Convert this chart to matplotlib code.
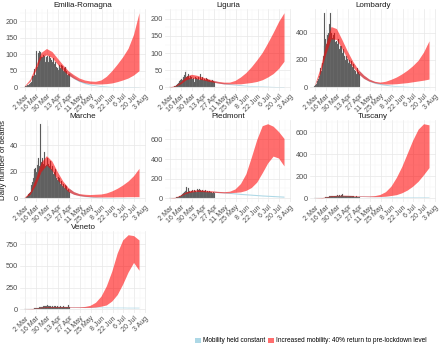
import numpy as np
import pandas as pd
import matplotlib
matplotlib.use("Agg")
import matplotlib.pyplot as plt
import matplotlib.dates as mdates
from matplotlib.patches import Patch

plt.rcParams['font.family'] = ['Liberation Sans', 'DejaVu Sans']

regions = ["Emilia-Romagna", "Liguria", "Lombardy", "Marche", "Piedmont", "Tuscany", "Veneto"]

bar_dates = pd.date_range("2020-03-01", "2020-04-28", freq="D")
ribbon_dates = pd.date_range("2020-03-01", periods=22, freq="7D")
blue_dates = ribbon_dates[8:]

deaths = {
    "Emilia-Romagna": [1, 4, 4, 5, 6, 7, 11, 12, 12, 16, 33, 34, 30, 55, 38, 108, 60, 68, 103, 109, 106,
                       93, 91, 90, 96, 93, 104, 76, 92, 95, 89, 76, 94, 88, 82, 62, 75, 88, 70, 62, 77, 62,
                       58, 51, 69, 67, 58, 68, 62, 63, 50, 59, 60, 61, 49, 36, 39, 46, 40],
    "Liguria": [0, 0, 0, 1, 1, 2, 3, 4, 6, 8, 10, 13, 15, 18, 20, 24, 22, 28, 30, 35, 45,
                50, 30, 34, 40, 28, 36, 32, 30, 25, 34, 28, 16, 30, 26, 28, 24, 30, 22, 26, 38, 25,
                30, 22, 27, 24, 20, 26, 22, 25, 20, 22, 18, 24, 19, 21, 18, 20, 16],
    "Lombardy": [10, 20, 25, 30, 45, 60, 80, 110, 140, 120, 180, 230, 300, 546, 350, 320, 420, 380, 400, 460, 546,
                 380, 400, 360, 380, 350, 400, 330, 340, 320, 300, 350, 280, 300, 260, 300, 250, 280, 230, 240, 200, 230,
                 210, 220, 180, 200, 170, 190, 160, 150, 170, 130, 160, 120, 100, 140, 110, 90, 100],
    "Marche": [0, 0, 1, 1, 2, 3, 4, 5, 8, 10, 12, 15, 18, 22, 23, 20, 25, 28, 30, 24, 56,
               22, 27, 30, 26, 35, 28, 24, 25, 30, 54, 26, 24, 28, 22, 20, 24, 18, 20, 17, 22, 15,
               14, 16, 12, 15, 11, 13, 10, 9, 11, 8, 10, 7, 9, 6, 7, 6, 5],
    "Piedmont": [0, 0, 0, 0, 1, 2, 3, 4, 6, 8, 10, 14, 18, 22, 28, 35, 40, 50, 55, 62, 70,
                 80, 120, 60, 100, 70, 85, 65, 75, 80, 70, 65, 85, 72, 68, 78, 90, 85, 95, 88, 80, 75,
                 82, 70, 78, 72, 80, 68, 74, 70, 65, 72, 60, 68, 62, 58, 60, 55, 52],
    "Tuscany": [0, 0, 0, 0, 0, 1, 1, 1, 2, 2, 3, 4, 5, 6, 8, 10, 12, 14, 15, 18, 20,
                22, 20, 24, 21, 25, 23, 22, 24, 26, 22, 25, 27, 23, 24, 26, 40, 25, 22, 24, 23, 21,
                22, 20, 23, 19, 21, 18, 20, 17, 19, 16, 18, 15, 17, 14, 15, 13, 12],
    "Veneto": [0, 0, 1, 1, 1, 2, 2, 3, 4, 5, 6, 8, 9, 10, 12, 14, 16, 18, 20, 22, 25,
               26, 28, 30, 32, 35, 30, 33, 36, 45, 34, 38, 32, 35, 30, 34, 36, 30, 33, 35, 32, 30,
               32, 28, 35, 30, 33, 29, 31, 28, 32, 30, 27, 29, 31, 26, 45, 30, 28],
}

red_hi = {
    "Emilia-Romagna": [5, 25, 65, 105, 117, 108, 88, 68, 50, 38, 28, 22, 19, 18, 22, 33, 50, 70, 92, 118, 160, 225],
    "Liguria": [1, 5, 16, 32, 38, 35, 30, 25, 20, 17, 15, 15, 20, 30, 43, 60, 80, 102, 130, 160, 192, 218],
    "Lombardy": [20, 140, 310, 445, 430, 350, 265, 190, 130, 90, 60, 44, 38, 44, 58, 75, 98, 125, 158, 198, 258, 340],
    "Marche": [1, 5, 15, 27, 32, 28, 20, 13, 8, 5, 3.5, 3, 2.8, 3, 3.2, 4, 5.5, 7.5, 10, 13, 17, 22.5],
    "Piedmont": [2, 10, 35, 65, 82, 86, 84, 80, 75, 70, 67, 72, 95, 150, 250, 420, 600, 740, 760, 735, 680, 610],
    "Tuscany": [1, 4, 12, 22, 27, 28, 27, 25, 23, 21, 21, 24, 35, 60, 110, 190, 290, 410, 530, 630, 680, 670],
    "Veneto": [1, 5, 14, 24, 30, 32, 32, 30, 28, 27, 27, 32, 45, 80, 150, 270, 440, 650, 800, 860, 850, 800],
}
red_lo = {
    "Emilia-Romagna": [3, 18, 50, 90, 98, 90, 70, 52, 37, 27, 19, 14, 11, 10, 10, 11, 13, 17, 22, 28, 37, 50],
    "Liguria": [0.5, 3, 10, 22, 27, 25, 22, 18, 15, 12, 10, 10, 10, 10, 12, 14, 17, 22, 30, 40, 55, 76],
    "Lombardy": [15, 100, 240, 355, 350, 285, 210, 150, 100, 65, 45, 33, 27, 24, 24, 26, 30, 34, 40, 46, 52, 60],
    "Marche": [0.5, 3, 10, 20, 25, 21, 14, 9, 5, 3, 2, 1.5, 1.2, 1, 1, 1, 1, 1.1, 1.1, 1.2, 1.2, 1.2],
    "Piedmont": [1, 6, 25, 50, 64, 70, 68, 65, 62, 58, 55, 56, 60, 65, 80, 110, 165, 260, 360, 430, 410, 330],
    "Tuscany": [0.5, 2, 8, 16, 21, 22, 21, 19, 18, 16, 15, 15, 16, 19, 25, 33, 50, 75, 110, 155, 215, 280],
    "Veneto": [0.5, 3, 10, 18, 23, 25, 25, 24, 22, 21, 20, 21, 22, 26, 35, 50, 95, 170, 290, 430, 540, 450],
}
blue_hi = {
    "Emilia-Romagna": [48, 33, 22, 15, 10, 7, 5, 3.5, 2.5, 2, 1.5, 1.2, 1, 0.8],
    "Liguria": [20, 16, 13, 11, 9, 7.5, 6, 5, 4.2, 3.5, 3, 2.5, 2, 1.8],
    "Lombardy": [130, 88, 60, 42, 30, 22, 16, 12, 9, 7, 5.5, 4.5, 3.5, 3],
    "Marche": [8, 5, 3.3, 2.3, 1.6, 1.1, 0.8, 0.6, 0.45, 0.35, 0.3, 0.25, 0.2, 0.15],
    "Piedmont": [72, 68, 65, 60, 55, 50, 46, 42, 38, 34, 31, 28, 25, 22],
    "Tuscany": [23, 21, 20, 19, 18, 17, 16, 15, 14, 13.5, 13, 12.5, 12, 11.5],
    "Veneto": [28, 27, 27, 27, 27, 26, 26, 26, 25, 25, 25, 24, 24, 24],
}
blue_lo = {
    "Emilia-Romagna": [38, 26, 17, 11, 7, 5, 3, 2, 1.5, 1, 0.7, 0.5, 0.4, 0.3],
    "Liguria": [15, 12, 9.5, 8, 6.5, 5, 4, 3.3, 2.7, 2.2, 1.8, 1.5, 1.2, 1],
    "Lombardy": [100, 65, 43, 29, 20, 14, 10, 7.5, 5.5, 4, 3, 2.5, 2, 1.5],
    "Marche": [5, 3, 2, 1.3, 0.9, 0.6, 0.4, 0.3, 0.2, 0.15, 0.1, 0.1, 0.08, 0.05],
    "Piedmont": [60, 57, 54, 49, 44, 39, 35, 31, 27, 23, 20, 17, 14, 11],
    "Tuscany": [18, 16, 15, 14, 13, 12, 11, 10, 9.5, 9, 8.5, 8, 7.5, 7],
    "Veneto": [22, 21, 21, 20, 20, 19, 19, 18, 18, 17, 17, 16, 16, 16],
}
y_ticks = {
    "Emilia-Romagna": [0, 50, 100, 150, 200],
    "Liguria": [0, 50, 100, 150, 200],
    "Lombardy": [0, 200, 400],
    "Marche": [0, 20, 40],
    "Piedmont": [0, 200, 400, 600],
    "Tuscany": [0, 200, 400, 600],
    "Veneto": [0, 250, 500, 750],
}
x_ticks = pd.date_range("2020-03-02", "2020-08-03", freq="14D")
x_tick_labels = [f"{d.day} {d.strftime('%b')}" for d in x_ticks]

W, H = 440, 348
fig = plt.figure(figsize=(W / 100, H / 100), dpi=100)
fig.patch.set_facecolor("white")

col_left = [20, 165, 310]
row_top = [9, 120, 231]
pw, ph = 126, 82

RED = "#ff0000"
BLUE = "#add8e6"

for i, reg in enumerate(regions):
    r, c = divmod(i, 3)
    x0, y0 = col_left[c], row_top[r]
    ax = fig.add_axes([x0 / W, 1 - (y0 + ph) / H, pw / W, ph / H])
    for s in ax.spines.values():
        s.set_visible(False)
    ax.set_facecolor("white")

    ax.fill_between(blue_dates, blue_lo[reg], blue_hi[reg], color=BLUE, alpha=1.0, lw=0, zorder=2)
    ax.bar(bar_dates, deaths[reg], width=1.0, color="#4a4a4a", edgecolor="#9a9a9a", linewidth=0.15, zorder=3)
    ax.fill_between(ribbon_dates, red_lo[reg], red_hi[reg], color=RED, alpha=0.57, lw=0, zorder=4)

    ymax = max(max(deaths[reg]), max(red_hi[reg]))
    ax.set_ylim(-0.05 * ymax, 1.05 * ymax)
    ax.set_xlim(pd.Timestamp("2020-02-24"), pd.Timestamp("2020-08-04"))

    ax.set_xticks(x_ticks)
    ax.set_xticklabels(x_tick_labels, rotation=45, ha="right", va="top",
                       rotation_mode="anchor", fontsize=5.0, color="#4d4d4d")
    yt = y_ticks[reg]
    ax.set_yticks(yt)
    ax.set_yticklabels([str(v) for v in yt], fontsize=5.3, color="#4d4d4d")
    ax.set_xticks(x_ticks[:-1] + pd.Timedelta(days=7), minor=True)
    step = yt[1] - yt[0]
    ax.set_yticks([v + step / 2 for v in yt], minor=True)
    ax.tick_params(axis="both", which="both", length=0, pad=1.5)
    ax.grid(True, which="major", color="#e8e8e8", lw=0.5, zorder=0)
    ax.grid(True, which="minor", color="#f4f4f4", lw=0.35, zorder=0)
    ax.set_axisbelow(True)
    ax.set_title(reg, fontsize=5.8, color="#1a1a1a", pad=1.5)

fig.text(4 / W, 1 - 160 / H, "Daily number of deaths", rotation=90, fontsize=5.6,
         color="#1a1a1a", ha="center", va="center")

handles = [Patch(facecolor=BLUE, edgecolor="none"),
           Patch(facecolor=RED, edgecolor="none", alpha=0.57)]
fig.legend(handles, ["Mobility held constant", "Increased mobility: 40% return to pre-lockdown level"],
           loc="center", bbox_to_anchor=(311 / W, 1 - 341 / H), ncol=2, frameon=False,
           fontsize=4.7, handlelength=0.9, handleheight=0.9, handletextpad=0.3,
           columnspacing=0.4, borderaxespad=0)

fig.savefig("out.png", dpi=100, facecolor="white")
